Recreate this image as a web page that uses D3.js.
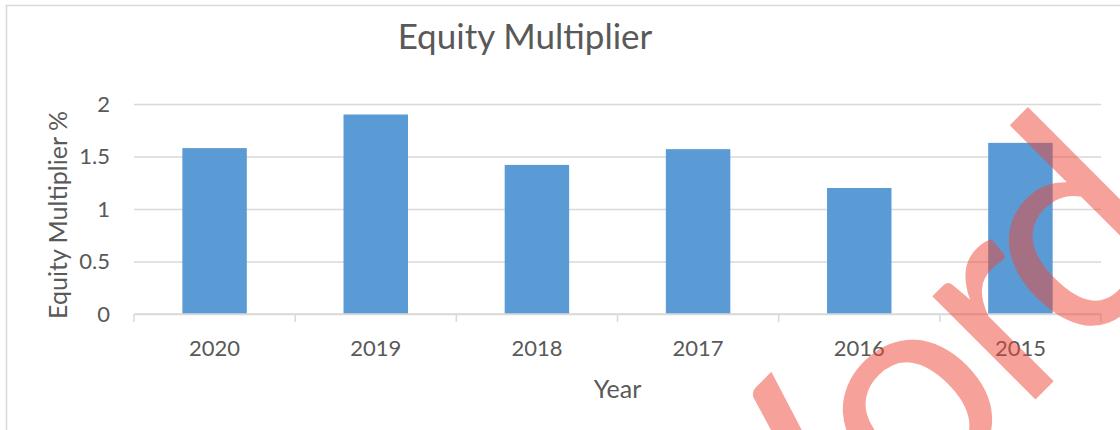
<!DOCTYPE html>
<html>
<head>
<meta charset="utf-8">
<script src="https://cdn.jsdelivr.net/npm/d3@7"></script>
<style>
  body { margin: 0; background: #fff; }
  text { font-family: Lato, "Open Sans", sans-serif; fill: #595959; }
</style>
</head>
<body>
<div id="chart"></div>
<script>
const years = ["2020", "2019", "2018", "2017", "2016", "2015"];
const multiplier = [1.58, 1.9, 1.42, 1.57, 1.2, 1.63];
const yTicks = [0, 0.5, 1, 1.5, 2];

const width = 1120, height = 430;
const plot = { left: 134, right: 1101, top: 104, bottom: 314 };

const svg = d3.select("#chart")
  .append("svg")
  .attr("width", width)
  .attr("height", height);

svg.append("rect")
  .attr("width", width).attr("height", height)
  .attr("fill", "#fff");

// chart area border (runs off the right / bottom edge)
svg.append("rect")
  .attr("x", 6.5).attr("y", 5.5)
  .attr("width", width + 20).attr("height", height + 20)
  .attr("fill", "none")
  .attr("stroke", "#d9d9d9")
  .attr("stroke-width", 1.5);

const y = d3.scaleLinear().domain([0, 2]).range([plot.bottom, plot.top]);
const x = d3.scaleBand()
  .domain(years)
  .range([plot.left, plot.right])
  .paddingInner(0.6)
  .paddingOuter(0.3);

// grid lines
svg.append("g")
  .attr("transform", `translate(${plot.left},0)`)
  .call(d3.axisLeft(y).tickValues(yTicks).tickSize(-(plot.right - plot.left)).tickFormat(""))
  .call(g => g.select(".domain").remove())
  .call(g => g.selectAll("line").attr("stroke", "#d9d9d9").attr("stroke-width", 1.5));

// y tick labels
svg.append("g")
  .selectAll("text")
  .data(yTicks)
  .enter()
  .append("text")
  .attr("x", 110)
  .attr("y", d => y(d))
  .attr("dy", "0.36em")
  .attr("text-anchor", "end")
  .style("font-size", "22px")
  .text(d => d);

// bars
svg.selectAll(".bar")
  .data(multiplier)
  .enter()
  .append("rect")
  .attr("class", "bar")
  .attr("x", (d, i) => x(years[i]))
  .attr("y", d => y(d))
  .attr("width", x.bandwidth())
  .attr("height", d => y(0) - y(d))
  .attr("fill", "#5b9bd5");

// x axis line + boundary ticks
const half = x.step() * x.paddingInner() / 2;
const bounds = years.map(d => x(d) - half).concat([plot.right]);
const xa = svg.append("g");
xa.append("line")
  .attr("x1", plot.left).attr("x2", plot.right)
  .attr("y1", y(0)).attr("y2", y(0))
  .attr("stroke", "#d9d9d9").attr("stroke-width", 1.5);
xa.selectAll(".tk")
  .data(bounds)
  .enter()
  .append("line")
  .attr("x1", d => d).attr("x2", d => d)
  .attr("y1", y(0)).attr("y2", y(0) + 8)
  .attr("stroke", "#d9d9d9").attr("stroke-width", 1.5);

xa.selectAll(".xl")
  .data(years)
  .enter()
  .append("text")
  .attr("x", d => x(d) + x.bandwidth() / 2)
  .attr("y", 356)
  .attr("text-anchor", "middle")
  .style("font-size", "22px")
  .text(d => d);

// titles
svg.append("text")
  .attr("x", 525).attr("y", 49)
  .attr("text-anchor", "middle")
  .style("font-size", "35px")
  .text("Equity Multiplier");

svg.append("text")
  .attr("x", (plot.left + plot.right) / 2).attr("y", 398)
  .attr("text-anchor", "middle")
  .style("font-size", "25px")
  .text("Year");

svg.append("text")
  .attr("transform", `translate(67, ${(plot.top + plot.bottom) / 2 + 6}) rotate(-90)`)
  .attr("text-anchor", "middle")
  .style("font-size", "25px")
  .text("Equity Multiplier %");

// watermark (one glyph per x position, rotated)
svg.append("text")
  .attr("transform", "translate(962, 473) rotate(-45)")
  .attr("x", "-208 10 136 245")
  .attr("y", 0)
  .attr("text-anchor", "middle")
  .style("font-size", "288px")
  .style("fill", "#ef4636")
  .style("opacity", 0.5)
  .text("Word");
</script>
</body>
</html>
